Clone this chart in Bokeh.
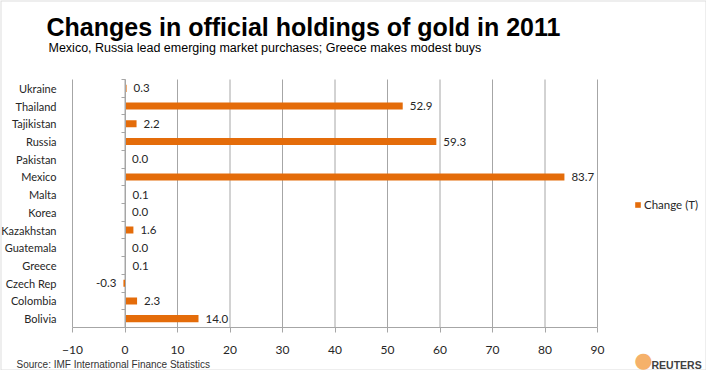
from bokeh.plotting import figure
from bokeh.models import Range1d, LinearAxis, FixedTicker, ColumnDataSource, Label, BoxAnnotation
from bokeh.core.properties import value, field
from bokeh.embed import file_html
from bokeh.resources import INLINE

# ---- data ----
countries = ["Ukraine", "Thailand", "Tajikistan", "Russia", "Pakistan", "Mexico", "Malta",
             "Korea", "Kazakhstan", "Guatemala", "Greece", "Czech Rep", "Colombia", "Bolivia"]
changes = [0.3, 52.9, 2.2, 59.3, 0.0, 83.7, 0.1, 0.0, 1.6, 0.0, 0.1, -0.3, 2.3, 14.0]
x_ticks = [-10, 0, 10, 20, 30, 40, 50, 60, 70, 80, 90]
series_name = "Change (T)"
title_text = "Changes in official holdings of gold in 2011"
subtitle_text = "Mexico, Russia lead emerging market purchases; Greece makes modest buys"
source_text = "Source: IMF International Finance Statistics"
brand_text = "REUTERS"

# ---- styles / layout ----
ORANGE = "#E46C0A"
GRID = "#A6A6A6"
TXT = "#262626"
CAL = "Lato"
ARIAL = "Liberation Sans"
W, H = 706, 370
# plot-area position in canvas pixels
PL, PR, PT, PB = 72, 597, 79, 327

n = len(countries)
x0, x1 = x_ticks[0], x_ticks[-1]
ppx = (PR - PL) / (x1 - x0)
ppy = (PB - PT) / n
XL, XR = x0 - PL / ppx, x1 + (W - PR) / ppx
YB, YT = -(H - PB) / ppy, n + PT / ppy

ypos = [n - 0.5 - i for i in range(n)]
labels = [f"{v:.1f}" for v in changes]
align = ["right" if v < 0 else "left" for v in changes]
xoff = [-7 if v < 0 else 7 for v in changes]
src = ColumnDataSource(dict(y=ypos, v=changes, lbl=labels, align=align, xoff=xoff))

p = figure(width=W, height=H, output_backend="svg", toolbar_location=None,
           x_range=Range1d(XL, XR), y_range=Range1d(YB, YT),
           x_axis_location=None, y_axis_location=None,
           min_border=0, min_border_left=0, min_border_right=0,
           min_border_top=0, min_border_bottom=0)
p.outline_line_color = None
p.background_fill_color = "white"
p.border_fill_color = "white"
for g in p.grid:
    g.visible = False

# outer border
p.add_layout(BoxAnnotation(fill_alpha=0, line_color="#8c8c8c", line_width=2))

# vertical gridlines at the x ticks, spanning the category area
p.segment(x0=x_ticks, x1=x_ticks, y0=0, y1=n, line_color=GRID, line_width=1)

# bottom axis
xa = LinearAxis(fixed_location=0, bounds=(x0, x1), ticker=FixedTicker(ticks=x_ticks),
                axis_line_color=GRID, major_tick_line_color=GRID,
                major_tick_out=5, major_tick_in=0, minor_tick_line_color=None,
                major_label_standoff=13, major_label_text_font=CAL,
                major_label_text_font_size="12px", major_label_text_color=TXT)
p.add_layout(xa, "below")

# category label axis (left edge of the plot area)
ya = LinearAxis(fixed_location=x0, bounds=(0, n), ticker=FixedTicker(ticks=ypos),
                major_label_overrides={y: c for y, c in zip(ypos, countries)},
                axis_line_color=None, major_tick_line_color=None, minor_tick_line_color=None,
                major_label_standoff=10, major_label_text_font=CAL,
                major_label_text_font_size="11px", major_label_text_color=TXT)
p.add_layout(ya, "left")

# zero axis with ticks between categories
za = LinearAxis(fixed_location=0, bounds=(0, n), ticker=FixedTicker(ticks=list(range(n + 1))),
                major_label_overrides={i: "" for i in range(n + 1)},
                axis_line_color=GRID, major_tick_line_color=GRID,
                major_tick_out=4, major_tick_in=0, minor_tick_line_color=None)
p.add_layout(za, "left")

p.hbar(y="y", left=0, right="v", height=0.4, fill_color=ORANGE, line_color=None,
       source=src, legend_label=series_name)

p.text(x="v", y="y", text="lbl", text_align=field("align"), x_offset=field("xoff"),
       text_baseline="middle", text_font=value(CAL), text_font_size="11.5px",
       text_color=TXT, source=src)

lg = p.legend[0]
lg.location = (634, 159)
lg.border_line_color = None
lg.background_fill_alpha = 0
lg.padding = 0
lg.margin = 0
lg.glyph_width = 7
lg.glyph_height = 7
lg.label_height = 7
lg.label_standoff = 3
lg.label_text_font = CAL
lg.label_text_font_size = "11.5px"
lg.label_text_color = TXT

# titles & footer (screen units, from canvas bottom-left)
p.add_layout(Label(x=46, y=H - 26, x_units="screen", y_units="screen", text=title_text,
                   text_font=ARIAL, text_font_style="bold", text_font_size="25px",
                   text_color="black", text_baseline="alphabetic"))
p.add_layout(Label(x=48, y=H - 47, x_units="screen", y_units="screen", text=subtitle_text,
                   text_font=ARIAL, text_font_size="12.5px",
                   text_color="black", text_baseline="alphabetic"))
p.add_layout(Label(x=16, y=6, x_units="screen", y_units="screen", text=source_text,
                   text_font=ARIAL, text_font_size="10px",
                   text_color="#333333", text_baseline="alphabetic"))
p.add_layout(Label(x=643, y=11, x_units="screen", y_units="screen", text="\u25CF",
                   text_font="DejaVu Sans", text_font_size="21px",
                   text_color="#F5B16A", text_align="center", text_baseline="middle"))
p.add_layout(Label(x=651, y=6, x_units="screen", y_units="screen", text=brand_text,
                   text_font=ARIAL, text_font_style="bold", text_font_size="10.5px",
                   text_color="#404040", text_baseline="alphabetic"))

open("out.html", "w").write(file_html(p, INLINE))
